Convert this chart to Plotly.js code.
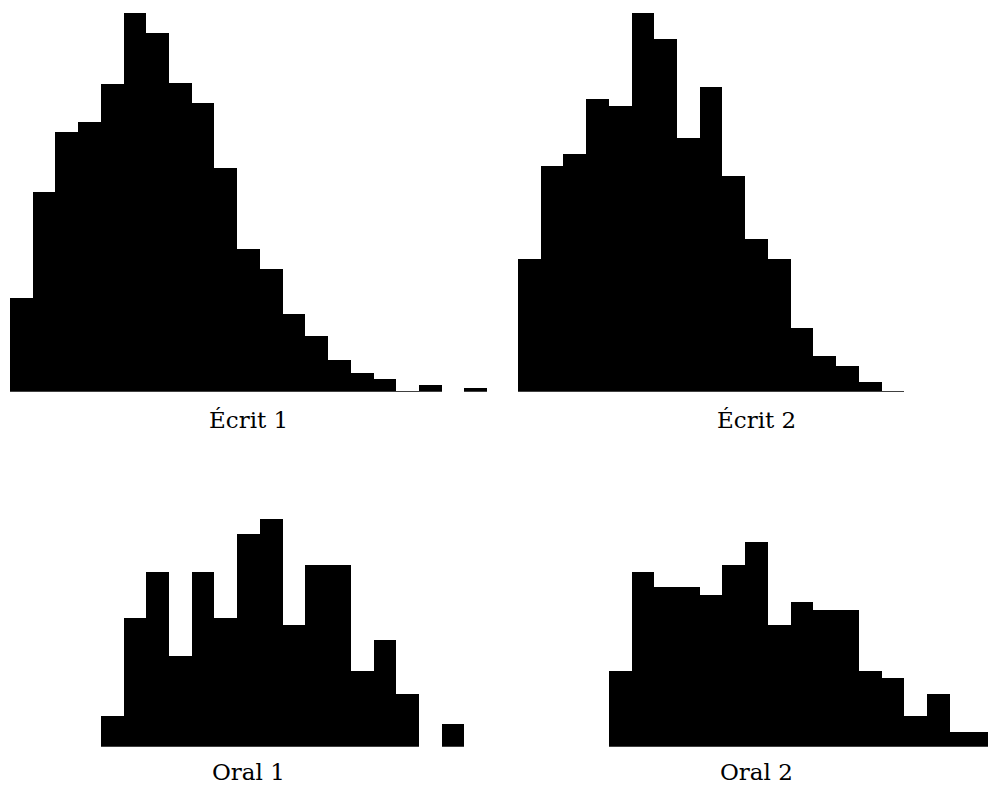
<!DOCTYPE html>
<html>
<head>
<meta charset="utf-8">
<script src="https://cdn.plot.ly/plotly-3.0.1.min.js"></script>
<style>
  html, body { margin: 0; padding: 0; background: #ffffff; }
  #chart { width: 988px; height: 785px; }
</style>
</head>
<body>
<div id="chart"></div>
<script>
// Panel titles
const panelTitles = ['Écrit 1', 'Écrit 2', 'Oral 1', 'Oral 2'];

// Bins (score classes) for each histogram
const ecrit1Bins = [0, 1, 2, 3, 4, 5, 6, 7, 8, 9, 10, 11, 12, 13, 14, 15, 16, 17, 18, 19, 20];
const ecrit2Bins = [0, 1, 2, 3, 4, 5, 6, 7, 8, 9, 10, 11, 12, 13, 14, 15, 16];
const oral1Bins  = [4, 5, 6, 7, 8, 9, 10, 11, 12, 13, 14, 15, 16, 17, 18, 19];
const oral2Bins  = [4, 5, 6, 7, 8, 9, 10, 11, 12, 13, 14, 15, 16, 17, 18, 19, 20];

// Heights (relative frequencies for the written exams)
const ecrit1Values = [94, 199.7, 259.7, 269.7, 307.7, 379, 359, 309, 289, 224, 143, 123, 78, 56, 32, 19, 13, 0.8, 6.7, 0, 3.7];
const ecrit2Values = [133, 226, 237.7, 292.7, 285.7, 379, 352.7, 254, 304.7, 215.7, 152.7, 133, 63.7, 35.7, 25.7, 9.7, 0.8];
// Counts for the oral exams
const oral1Values = [4, 17, 23, 12, 23, 17, 28, 30, 16, 24, 24, 10, 14, 7, 0, 3];
const oral2Values = [10, 23, 21, 21, 20, 24, 27, 16, 19, 18, 18, 10, 9, 4, 7, 2, 2];

function barTrace(x, y, xa, ya) {
  return {
    type: 'bar', x: x, y: y, xaxis: xa, yaxis: ya,
    width: 1,
    marker: { color: '#000000', line: { width: 0 } },
    hoverinfo: 'skip', showlegend: false
  };
}

const data = [
  barTrace(ecrit1Bins, ecrit1Values, 'x', 'y'),
  barTrace(ecrit2Bins, ecrit2Values, 'x2', 'y2'),
  barTrace(oral1Bins, oral1Values, 'x3', 'y3'),
  barTrace(oral2Bins, oral2Values, 'x4', 'y4')
];

const W = 988, H = 785;
const binPx = 22.72;
const leftStart = 10, rightStart = 518;
const topBase = 391.7, topTop = 12.7;
const botBase = 746.7, botUnit = 7.59, botMax = 32;

function hidden(extra) {
  return Object.assign({ visible: false, showgrid: false, zeroline: false, fixedrange: true }, extra);
}

const leftDomain = [leftStart / W, (leftStart + 21 * binPx) / W];
const rightDomain = [rightStart / W, 1];
const rightRangeEnd = -0.5 + (W - rightStart) / binPx;
const topDomain = [(H - topBase) / H, (H - topTop) / H];
const botDomain = [(H - botBase) / H, (H - (botBase - botUnit * botMax)) / H];

const labelFont = { family: 'DejaVu Serif, serif', size: 23, color: '#000000' };

function label(text, xref, ypx) {
  return {
    text: text, xref: xref, yref: 'paper', x: 10, y: (H - ypx) / H,
    xanchor: 'center', yanchor: 'middle', showarrow: false, font: labelFont
  };
}

const layout = {
  width: W, height: H,
  margin: { l: 0, r: 0, t: 0, b: 0, pad: 0 },
  paper_bgcolor: '#ffffff', plot_bgcolor: 'rgba(0,0,0,0)',
  bargap: 0, showlegend: false,
  xaxis:  hidden({ domain: leftDomain,  range: [-0.5, 20.5], anchor: 'y' }),
  xaxis2: hidden({ domain: rightDomain, range: [-0.5, rightRangeEnd], anchor: 'y2' }),
  xaxis3: hidden({ domain: leftDomain,  range: [-0.5, 20.5], anchor: 'y3' }),
  xaxis4: hidden({ domain: rightDomain, range: [-0.5, rightRangeEnd], anchor: 'y4' }),
  yaxis:  hidden({ domain: topDomain, range: [0, 379], anchor: 'x' }),
  yaxis2: hidden({ domain: topDomain, range: [0, 379], anchor: 'x2' }),
  yaxis3: hidden({ domain: botDomain, range: [0, botMax], anchor: 'x3' }),
  yaxis4: hidden({ domain: botDomain, range: [0, botMax], anchor: 'x4' }),
  annotations: [
    label(panelTitles[0], 'x', 420),
    label(panelTitles[1], 'x2', 420),
    label(panelTitles[2], 'x3', 772),
    label(panelTitles[3], 'x4', 772)
  ]
};

Plotly.newPlot('chart', data, layout, { staticPlot: true, displayModeBar: false });
</script>
</body>
</html>
